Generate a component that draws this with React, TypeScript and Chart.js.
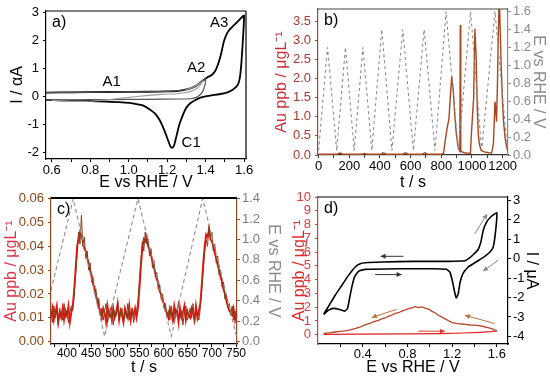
import React, { useEffect, useRef } from 'react';
import { Chart, registerables } from 'chart.js';
Chart.register(...registerables);

const FONT = "'Liberation Sans', Arial, Helvetica, sans-serif";
const TICK_SIZE = 13;
const TITLE_SIZE = 16;
Chart.defaults.font.family = FONT;

// ================= Panel a) cyclic voltammograms =================
const aOuterE = [0.57,0.70,0.90,1.10,1.20,1.26,1.30,1.32,1.35,1.37,1.39,1.41,1.43,1.45,1.465,1.48,1.495,1.51,1.525,1.54,1.56,1.58,1.595,1.60,
  1.598,1.592,1.585,1.577,1.565,1.539,1.51,1.47,1.43,1.40,1.37,1.349,1.32,1.298,1.28,1.263,1.25,1.237,1.228,1.218,1.205,1.194,1.175,1.16,1.14,1.125,1.10,1.073,1.04,1.005,0.95,0.884,0.80,0.71,0.57];
const aOuterI = [0.13,0.14,0.15,0.16,0.17,0.19,0.24,0.28,0.37,0.47,0.58,0.68,0.75,0.90,1.15,1.50,1.95,2.22,2.38,2.48,2.62,2.76,2.86,2.88,
  2.5,1.8,1.1,0.62,0.38,0.22,0.13,0.07,0.03,-0.01,-0.06,-0.13,-0.25,-0.43,-0.70,-1.02,-1.38,-1.73,-1.84,-1.80,-1.58,-1.37,-1.05,-0.84,-0.64,-0.55,-0.43,-0.33,-0.28,-0.24,-0.21,-0.19,-0.17,-0.16,-0.13];
const aInner1E = [0.57,0.9,1.2,1.3,1.35,1.38,1.40,1.398,1.39,1.38,1.365,1.345,1.32,1.25,1.1,0.9,0.7,0.57];
const aInner1I = [0.13,0.15,0.17,0.24,0.37,0.52,0.62,0.45,0.26,0.12,0.02,-0.06,-0.09,-0.10,-0.11,-0.12,-0.13,-0.13];
const aInner2E = [1.30,1.34,1.37,1.385,1.37,1.34,1.30,1.25,1.19,1.12,1.056,0.98,0.9,0.8,0.7,0.6];
const aInner2I = [0.24,0.34,0.46,0.54,0.38,0.22,0.13,0.09,0.07,0.04,0.0,-0.06,-0.12,-0.18,-0.18,-0.15];
const aXTicks = [0.6,0.7,0.8,0.9,1.0,1.1,1.2,1.3,1.4,1.5,1.6];
const aXLabels = ['0.6','','0.8','','1.0','','1.2','','1.4','','1.6'];
const aYTicks = [-2,-1,0,1,2,3];
const aYLabels = ['-2','-1','0','1','2','3'];
const aPeakNames = ['A1','A2','A3','C1'];
const aPeakE = [0.912,1.351,1.47,1.325];
const aPeakI = [0.51,1.0,2.63,-1.66];

// ================= Panel b) Au dissolution vs time =================
const bTimeE = [0,58,118,175,232,289,347,412,478,549,618,688,759,831,911,991,1063,1150,1231];
const bPotE = [0.05,1.2,0.05,1.2,0.05,1.2,0.05,1.4,0.05,1.4,0.05,1.4,0.05,1.6,0.05,1.6,0.05,1.6,0.05];
const bTimeAu = [0,60,120,140,160,280,300,320,405,420,440,550,568,585,675,692,710,800,815,828,838,850,860,868,878,888,898,908,918,921,924,927,935,950,970,990,997,1004,1011,1019,1027,1034,1042,1050,1060,1080,1110,1128,1140,1150,1155,1160,1166,1172,1178,1190,1198,1206,1216,1226,1235];
const bAu = [0.02,0.02,0.02,0.05,0.02,0.02,0.04,0.02,0.02,0.06,0.02,0.02,0.06,0.02,0.02,0.06,0.02,0.02,0.05,0.45,0.70,0.95,1.6,2.05,1.7,1.05,0.55,0.25,0.12,0.10,3.4,0.12,0.08,0.06,0.05,0.04,0.6,1.05,1.5,3.3,2.6,1.3,0.5,0.25,0.12,0.08,0.06,0.05,0.3,1.4,1.2,0.87,1.8,3.2,4.2,2.4,1.5,0.87,0.45,0.2,0.1];
const bXTicks = [0,100,200,300,400,500,600,700,800,900,1000,1100,1200];
const bXLabels = ['0','','200','','400','','600','','800','','1000','','1200'];
const bYTicks = [0,0.5,1.0,1.5,2.0,2.5,3.0,3.5];
const bYLabels = ['0.0','0.5','1.0','1.5','2.0','2.5','3.0','3.5'];
const bY2Ticks = [0,0.2,0.4,0.6,0.8,1.0,1.2,1.4,1.6];
const bY2Labels = ['0.0','0.2','0.4','0.6','0.8','1.0','1.2','1.4','1.6'];

// ================= Panel c) zoom of three cycles =================
const cTimeStart = 367;
const cTimeStep = 3;
// raw (spiky, brown) trace
const cAuRaw = [
  0.012,0.008,0.015,0.010,0.013,0.007,0.014,0.011,0.009,0.016,0.010,0.013,0.008,0.012,0.015,
  0.013,0.019,0.028,0.036,0.046,0.041,0.053,0.040,0.044,0.035,0.038,0.030,0.033,0.025,0.027,0.020,0.022,0.015,0.018,0.011,
  0.014,0.009,0.013,0.016,0.008,0.012,0.010,0.015,0.007,0.013,0.011,0.017,0.009,0.012,0.014,0.008,0.013,0.010,0.016,0.009,0.012,0.014,0.008,0.011,0.013,
  0.017,0.026,0.035,0.042,0.038,0.046,0.041,0.043,0.036,0.039,0.031,0.034,0.027,0.029,0.022,0.024,0.018,0.020,0.014,0.016,0.011,
  0.013,0.009,0.015,0.011,0.008,0.014,0.012,0.017,0.010,0.013,0.007,0.012,0.015,0.009,0.011,0.014,0.010,0.016,0.008,0.013,0.011,0.009,
  0.014,0.021,0.029,0.037,0.043,0.040,0.049,0.044,0.046,0.038,0.041,0.033,0.036,0.028,0.030,0.023,0.025,0.018,0.020,0.014,0.016,0.011,
  0.015,0.009,0.013,0.010];
// red trace
const cAuRed = [
  0.010,0.014,0.009,0.012,0.015,0.008,0.012,0.010,0.014,0.009,0.013,0.011,0.015,0.008,0.012,
  0.015,0.022,0.031,0.040,0.043,0.046,0.044,0.042,0.039,0.038,0.035,0.033,0.030,0.028,0.024,0.023,0.019,0.018,0.014,0.013,
  0.010,0.014,0.012,0.008,0.015,0.011,0.013,0.009,0.014,0.010,0.012,0.016,0.009,0.013,0.011,0.008,0.014,0.012,0.010,0.015,0.009,0.013,0.011,0.014,0.010,
  0.014,0.022,0.031,0.039,0.043,0.042,0.044,0.040,0.039,0.036,0.034,0.031,0.029,0.026,0.025,0.021,0.020,0.017,0.016,0.013,0.012,
  0.010,0.014,0.012,0.009,0.015,0.011,0.013,0.008,0.014,0.010,0.012,0.015,0.009,0.013,0.011,0.010,0.014,0.012,0.009,0.015,0.010,0.013,
  0.016,0.024,0.033,0.040,0.045,0.044,0.047,0.043,0.042,0.040,0.037,0.035,0.032,0.030,0.027,0.025,0.022,0.020,0.017,0.015,0.013,0.012,
  0.011,0.014,0.009,0.012];
const cTimeE = [367,413,478,547,616,681,752];
const cPotE = [0.5,1.4,0.05,1.4,0.05,1.4,0.03];
const cXTicks = [375,400,425,450,475,500,525,550,575,600,625,650,675,700,725,750];
const cXLabels = ['','400','','450','','500','','550','','600','','650','','700','','750'];
const cYTicks = [0,0.01,0.02,0.03,0.04,0.05,0.06];
const cYLabels = ['0.00','0.01','0.02','0.03','0.04','0.05','0.06'];
const cY2Ticks = [0,0.2,0.4,0.6,0.8,1.0,1.2,1.4];
const cY2Labels = ['0.0','0.2','0.4','0.6','0.8','1.0','1.2','1.4'];

// ================= Panel d) CV with Au signal =================
const dCvE = [0.050,0.095,0.139,0.184,0.238,0.264,0.282,0.303,0.327,0.362,0.422,0.719,1.017,1.150,1.180,1.201,1.219,1.237,1.255,1.272,1.299,1.344,1.403,1.463,1.522,1.567,1.588,1.600,
  1.552,1.507,1.478,1.457,1.433,1.397,1.359,1.314,1.165,0.868,0.571,0.422,0.377,0.333,0.273,0.214,0.154,0.095,0.050];
const dCvI = [-2.87,-2.65,-2.56,-2.60,-2.70,-2.56,-2.05,-1.45,-0.94,-0.65,-0.55,-0.52,-0.52,-0.55,-0.69,-1.11,-1.63,-2.02,-1.80,-1.20,-0.75,-0.43,-0.21,0.0,0.25,0.59,1.36,2.35,
  2.18,1.87,1.45,0.85,0.47,0.25,0.05,-0.11,-0.14,-0.14,-0.17,-0.21,-0.26,-0.43,-0.86,-1.37,-1.88,-2.44,-2.87];
const dAuFwdE = [0.05,0.4,0.8,1.1,1.3,1.45,1.55,1.6];
const dAuFwdV = [0.03,0.04,0.06,0.09,0.13,0.18,0.23,0.28];
const dAuRevE = [1.60,1.56,1.52,1.48,1.44,1.40,1.36,1.32,1.28,1.24,1.20,1.17,1.14,1.11,1.08,1.05,1.02,0.99,0.96,0.93,0.90,0.87,0.84,0.81,0.78,0.75,0.72,0.69,0.66,0.63,0.60,0.57,0.54,0.50,0.46,0.42,0.38,0.33,0.28,0.24,0.20,0.15,0.10,0.05];
const dAuRevV = [0.28,0.42,0.52,0.60,0.66,0.70,0.71,0.76,0.78,0.82,0.88,1.02,1.14,1.28,1.40,1.58,1.70,1.86,1.93,2.02,1.97,2.04,1.96,1.90,1.80,1.72,1.60,1.55,1.42,1.34,1.22,1.15,1.05,0.96,0.82,0.72,0.58,0.44,0.34,0.28,0.24,0.20,0.14,0.10];
const dXTicks = [0.2,0.4,0.6,0.8,1.0,1.2,1.4,1.6];
const dXLabels = ['','0.4','','0.8','','1.2','','1.6'];
const dYTicks = [0,1,2,3,4,5,6,7,8,9,10];
const dYLabels = ['0','1','2','3','4','5','6','7','8','9','10'];
const dY2Ticks = [-4,-3,-2,-1,0,1,2,3];
const dY2Labels = ['-4','-3','-2','-1','0','1','2','3'];
// arrows: [x1, y1, x2, y2] in data units
const dArrowsCv = [[0.764,0.12,0.56,0.12],[0.511,-0.82,0.749,-0.82]];
const dArrowsCvGray = [[1.403,1.28,1.513,2.30],[1.611,-0.09,1.477,-0.64]];
const dArrowsAuBrown = [[0.704,1.85,0.481,1.25],[1.582,0.81,1.314,1.42]];
const dArrowsAuRed = [[0.898,0.26,1.136,0.26]];

// ================= helpers =================
const zip = (xs: number[], ys: number[]) => xs.map((x, i) => ({ x, y: ys[i] }));

interface AxisOpt {
  pos: 'left' | 'right' | 'bottom'; min: number; max: number; ticks: number[]; labels: string[];
  size: number; color: string; labelColor: string; title?: string; titleColor?: string;
  titlePad?: number; labelPad?: number; borderWidth?: number; tickFont?: number;
}
function makeAxis(o: AxisOpt) {
  const horiz = o.pos === 'bottom';
  return {
    type: 'linear', position: o.pos, min: o.min, max: o.max,
    afterBuildTicks: (s: any) => { s.ticks = o.ticks.map((v) => ({ value: v })); },
    afterFit: (s: any) => {
      if (horiz) { s.height = o.size; s.paddingLeft = 0; s.paddingRight = 0; }
      else { s.width = o.size; s.paddingTop = 0; s.paddingBottom = 0; }
    },
    ticks: {
      autoSkip: false, maxRotation: 0, minRotation: 0, padding: o.labelPad ?? 2, color: o.labelColor,
      font: { family: FONT, size: o.tickFont ?? TICK_SIZE },
      callback: (_v: any, i: number) => o.labels[i] ?? '',
    },
    grid: { display: true, drawOnChartArea: false, drawTicks: true, tickLength: 3, tickColor: o.color, tickWidth: 1 },
    border: { display: true, color: o.color, width: o.borderWidth ?? 1.2 },
    title: {
      display: !!o.title, text: o.title ?? '', color: o.titleColor ?? o.labelColor,
      font: { family: FONT, size: TITLE_SIZE },
      padding: { top: o.titlePad ?? 0, bottom: o.titlePad ?? 0 },
    },
  };
}

function framePlugin(top: string | null, right: string | null, lw: number) {
  return {
    id: 'frame',
    afterDatasetsDraw(chart: any) {
      const { ctx, chartArea: a } = chart;
      ctx.save(); ctx.lineWidth = lw;
      if (top) { ctx.strokeStyle = top; ctx.beginPath(); ctx.moveTo(a.left, a.top); ctx.lineTo(a.right, a.top); ctx.stroke(); }
      if (right) { ctx.strokeStyle = right; ctx.beginPath(); ctx.moveTo(a.right, a.top); ctx.lineTo(a.right, a.bottom); ctx.stroke(); }
      ctx.restore();
    },
  };
}

function letterPlugin(text: string) {
  return {
    id: 'letter',
    afterDraw(chart: any) {
      const { ctx, chartArea: a } = chart;
      ctx.save(); ctx.font = `${TITLE_SIZE}px ${FONT}`; ctx.fillStyle = '#000';
      ctx.textAlign = 'left'; ctx.textBaseline = 'middle';
      ctx.fillText(text, a.left + 6, a.top + 12);
      ctx.restore();
    },
  };
}

function notesPlugin(names: string[], xs: number[], ys: number[]) {
  return {
    id: 'notes',
    afterDraw(chart: any) {
      const { ctx } = chart;
      ctx.save(); ctx.font = `${TITLE_SIZE - 1}px ${FONT}`; ctx.fillStyle = '#000';
      ctx.textAlign = 'center'; ctx.textBaseline = 'middle';
      names.forEach((n, i) => ctx.fillText(n, chart.scales.x.getPixelForValue(xs[i]), chart.scales.y.getPixelForValue(ys[i])));
      ctx.restore();
    },
  };
}

function arrowsPlugin(groups: { list: number[][]; axis: string; color: string }[]) {
  return {
    id: 'arrows',
    afterDatasetsDraw(chart: any) {
      const { ctx } = chart;
      ctx.save();
      for (const g of groups) {
        const ys = chart.scales[g.axis];
        for (const [x1, y1, x2, y2] of g.list) {
          const px1 = chart.scales.x.getPixelForValue(x1), py1 = ys.getPixelForValue(y1);
          const px2 = chart.scales.x.getPixelForValue(x2), py2 = ys.getPixelForValue(y2);
          const ang = Math.atan2(py2 - py1, px2 - px1);
          ctx.strokeStyle = g.color; ctx.fillStyle = g.color; ctx.lineWidth = 1;
          ctx.beginPath(); ctx.moveTo(px1, py1); ctx.lineTo(px2, py2); ctx.stroke();
          const L = 5, W = 2.5;
          ctx.beginPath();
          ctx.moveTo(px2, py2);
          ctx.lineTo(px2 - L * Math.cos(ang) + W * Math.sin(ang), py2 - L * Math.sin(ang) - W * Math.cos(ang));
          ctx.lineTo(px2 - L * Math.cos(ang) - W * Math.sin(ang), py2 - L * Math.sin(ang) + W * Math.cos(ang));
          ctx.closePath(); ctx.fill();
        }
      }
      ctx.restore();
    },
  };
}

const line = (data: any[], color: string, width: number, extra: any = {}) => ({
  data, borderColor: color, backgroundColor: color, borderWidth: width, showLine: true,
  pointRadius: 0, fill: false, tension: 0, ...extra,
});

const baseOptions = (padding: any, scales: any) => ({
  responsive: false, animation: false, events: [],
  layout: { padding },
  plugins: { legend: { display: false }, tooltip: { enabled: false } },
  scales,
});

// ================= configs =================
function configA() {
  return {
    type: 'scatter',
    data: {
      datasets: [
        line(zip(aInner2E, aInner2I), '#9a9a9a', 1.1, { tension: 0.2 }),
        line(zip(aInner1E, aInner1I), '#555555', 1.2, { tension: 0.2 }),
        line(zip(aOuterE, aOuterI), '#000000', 1.8, { tension: 0.2 }),
      ],
    },
    options: baseOptions({ top: 11, right: 29, left: 0, bottom: 0 }, {
      x: makeAxis({ pos: 'bottom', min: 0.57, max: 1.61, ticks: aXTicks, labels: aXLabels, size: 34, color: '#000', labelColor: '#000', title: 'E vs RHE / V', titlePad: 0.4, labelPad: 1 }),
      y: makeAxis({ pos: 'left', min: -2.24, max: 3.04, ticks: aYTicks, labels: aYLabels, size: 46, color: '#000', labelColor: '#000', title: 'I / αA', titlePad: 8.4, labelPad: 4 }),
    }),
    plugins: [framePlugin('#000', '#000', 1.2), letterPlugin('a)'), notesPlugin(aPeakNames, aPeakE, aPeakI)],
  };
}

function configB() {
  return {
    type: 'scatter',
    data: {
      datasets: [
        line(zip(bTimeE, bPotE), '#8c8c8c', 1.1, { yAxisID: 'y2', borderDash: [3, 3] }),
        line(zip(bTimeAu, bAu), '#a8461e', 1.4, { yAxisID: 'y' }),
      ],
    },
    options: baseOptions({ top: 9, right: 0, left: 0, bottom: 0 }, {
      x: makeAxis({ pos: 'bottom', min: -4, max: 1235, ticks: bXTicks, labels: bXLabels, size: 38, color: '#333', labelColor: '#000', title: 't / s', titlePad: 0.4, labelPad: 1 }),
      y: makeAxis({ pos: 'left', min: 0, max: 3.82, ticks: bYTicks, labels: bYLabels, size: 43, color: '#9b4a30', labelColor: '#a8382c', title: 'Au ppb / μgL⁻¹', titleColor: '#c8323a', titlePad: -2.6, labelPad: 4 }),
      y2: makeAxis({ pos: 'right', min: 0, max: 1.627, ticks: bY2Ticks, labels: bY2Labels, size: 42, color: '#8c8c8c', labelColor: '#8a8a8a', title: 'E vs RHE / V', titleColor: '#8a8a8a', titlePad: 2.4, labelPad: 2 }),
    }),
    plugins: [framePlugin('#444', null, 1.2), letterPlugin('b)')],
  };
}

function configC() {
  const cTime = cAuRed.map((_, i) => cTimeStart + i * cTimeStep);
  return {
    type: 'scatter',
    data: {
      datasets: [
        line(zip(cTimeE, cPotE), '#8c8c8c', 1.1, { yAxisID: 'y2', borderDash: [4, 3] }),
        line(zip(cTime, cAuRaw), '#8b3a16', 1.0, { yAxisID: 'y' }),
        line(zip(cTime, cAuRed), '#ee1111', 1.8, { yAxisID: 'y' }),
      ],
    },
    options: baseOptions({ top: 8, right: 0, left: 0, bottom: 0 }, {
      x: makeAxis({ pos: 'bottom', min: 367, max: 752, ticks: cXTicks, labels: cXLabels, size: 33, color: '#000', labelColor: '#000', title: 't / s', titlePad: -0.6, labelPad: -0.5, tickFont: 12 }),
      y: makeAxis({ pos: 'left', min: -0.001, max: 0.0603, ticks: cYTicks, labels: cYLabels, size: 51, color: '#8b4a25', labelColor: '#8b4513', title: 'Au ppb / μgL⁻¹', titleColor: '#d8354a', titlePad: 2.4, labelPad: 4 }),
      y2: makeAxis({ pos: 'right', min: -0.025, max: 1.406, ticks: cY2Ticks, labels: cY2Labels, size: 53, color: '#8b4a25', labelColor: '#7f7f7f', title: 'E vs RHE / V', titleColor: '#8a8a8a', titlePad: 7.4, labelPad: 2 }),
    }),
    plugins: [framePlugin('#000', null, 2), letterPlugin('c)')],
  };
}

function configD() {
  return {
    type: 'scatter',
    data: {
      datasets: [
        line(zip(dAuFwdE, dAuFwdV), '#e02020', 1.2, { yAxisID: 'y' }),
        line(zip(dAuRevE, dAuRevV), '#b5462a', 1.3, { yAxisID: 'y' }),
        line(zip(dCvE, dCvI), '#000000', 1.6, { yAxisID: 'y2', tension: 0.15 }),
      ],
    },
    options: baseOptions({ top: 7, right: 0, left: 0, bottom: 0 }, {
      x: makeAxis({ pos: 'bottom', min: 0, max: 1.7, ticks: dXTicks, labels: dXLabels, size: 33, color: '#000', labelColor: '#000', title: 'E vs RHE / V', titlePad: -0.3, labelPad: 0 }),
      y: makeAxis({ pos: 'left', min: -0.67, max: 10.0, ticks: dYTicks, labels: dYLabels, size: 43, color: '#d04040', labelColor: '#dd3c3c', title: 'Au ppb / μgL⁻¹', titleColor: '#dd2a2a', titlePad: 15.4, labelPad: 4 }),
      y2: makeAxis({ pos: 'right', min: -4.39, max: 3.17, ticks: dY2Ticks, labels: dY2Labels, size: 42, color: '#000', labelColor: '#000', title: 'I / μA', titleColor: '#000', titlePad: 8.7, labelPad: 2 }),
    }),
    plugins: [
      framePlugin('#000', null, 1.2), letterPlugin('d)'),
      arrowsPlugin([
        { list: dArrowsCv, axis: 'y2', color: '#333' },
        { list: dArrowsCvGray, axis: 'y2', color: '#888' },
        { list: dArrowsAuBrown, axis: 'y', color: '#b8703f' },
        { list: dArrowsAuRed, axis: 'y', color: '#e03a2a' },
      ]),
    ],
  };
}

function Panel({ left, top, width, height, build }: { left: number; top: number; width: number; height: number; build: () => any }) {
  const ref = useRef<HTMLCanvasElement>(null);
  useEffect(() => {
    const chart = new Chart(ref.current as HTMLCanvasElement, build());
    return () => chart.destroy();
  }, []);
  return <canvas ref={ref} width={width} height={height} style={{ position: 'absolute', left, top, width, height }} />;
}

export default function App() {
  return (
    <div style={{ position: 'fixed', left: 0, top: 0, width: 550, height: 377, background: '#fff', overflow: 'hidden' }}>
      <Panel left={0} top={0} width={275} height={193} build={configA} />
      <Panel left={0} top={190} width={290} height={187} build={configC} />
      <Panel left={275} top={0} width={275} height={193} build={configB} />
      <Panel left={275} top={190} width={275} height={187} build={configD} />
    </div>
  );
}
